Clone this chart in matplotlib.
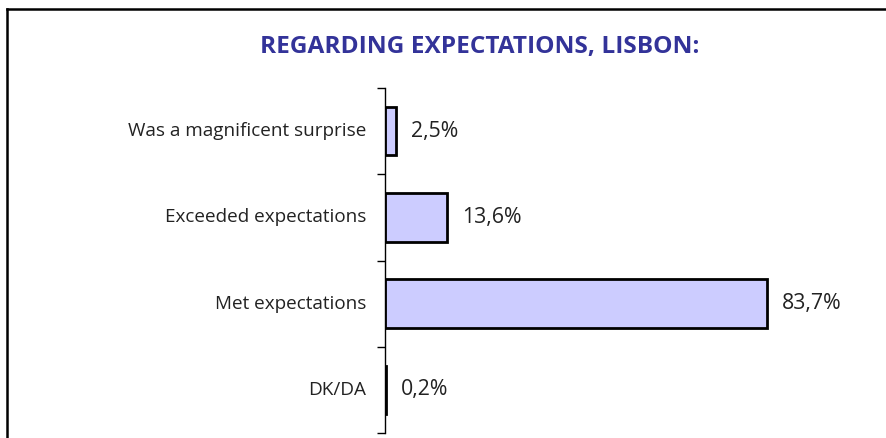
import matplotlib.pyplot as plt
from matplotlib.lines import Line2D

plt.rcParams['font.family'] = ['Open Sans', 'DejaVu Sans']

categories = ['Was a magnificent surprise', 'Exceeded expectations', 'Met expectations', 'DK/DA']
values = [2.5, 13.6, 83.7, 0.2]
value_labels = ['2,5%', '13,6%', '83,7%', '0,2%']
title = 'REGARDING EXPECTATIONS, LISBON:'

fig = plt.figure(figsize=(8.86, 4.38), dpi=100)
ax = fig.add_axes([385 / 886, 1 - 433 / 438, (841 - 385) / 886, (433 - 88) / 438])

pos = list(range(len(categories)))[::-1]
ax.barh(pos, values, height=0.56, color='#ccccff', edgecolor='black', linewidth=2)

# value labels to the right of each bar
for p, v, lab in zip(pos, values, value_labels):
    ax.annotate(lab, (v, p), xytext=(15, 0), textcoords='offset pixels',
                va='center', ha='left', fontsize=15.3, color='#222222')

ax.set_xlim(0, 100)
ax.set_ylim(-0.5, 3.5)
ax.set_xticks([])
ax.set_yticks([-0.5, 0.5, 1.5, 2.5, 3.5])
ax.set_yticklabels([])
ax.tick_params(axis='y', direction='out', length=6, width=1, color='black')
for s in ['top', 'right', 'bottom']:
    ax.spines[s].set_visible(False)
ax.spines['left'].set_linewidth(1)

# category labels sit between the boundary ticks
for p, c in zip(pos, categories):
    ax.annotate(c, (0, p), xytext=(-19, 0), textcoords='offset pixels',
                va='center', ha='right', fontsize=13.6, color='#222222')

fig.text(480 / 886, 1 - 47 / 438, title, ha='center', va='center',
         fontsize=17.6, fontweight='bold', color='#333399')

# frame lines (top and left only)
fig.add_artist(Line2D([6.5 / 886, 1], [1 - 8.5 / 438] * 2, color='black', lw=1.8,
                      transform=fig.transFigure))
fig.add_artist(Line2D([6.5 / 886] * 2, [0, 1 - 8.5 / 438], color='black', lw=1.8,
                      transform=fig.transFigure))

fig.savefig('out.png', dpi=100)
